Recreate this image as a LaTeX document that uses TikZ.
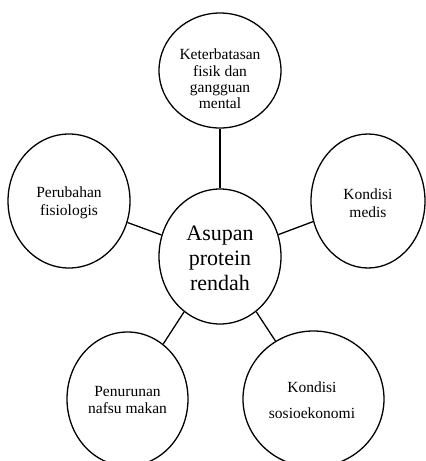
\documentclass[tikz,border=0pt]{standalone}
\usepackage{fontspec}
\setmainfont{Liberation Serif}
\usetikzlibrary{shapes.geometric}
\begin{document}
\begin{tikzpicture}[x=1pt,y=-1pt,
  bubble/.style={draw,ellipse,line width=1.3pt,inner sep=0pt},
  link/.style={line width=1.3pt},
  lbl/.style={align=center,inner sep=0pt,font=\fontsize{15.5}{17.5}\selectfont}]
\useasboundingbox[fill=white] (0,0) rectangle (426,461);
% bubbles
\node[bubble,minimum width=122pt,minimum height=115pt] (top) at (220,70.5) {};
\node[bubble,minimum width=122pt,minimum height=135pt] (core) at (220,256.5) {};
\node[bubble,minimum width=122pt,minimum height=134pt] (left) at (69,201) {};
\node[bubble,minimum width=114pt,minimum height=134pt] (right) at (368,201) {};
\node[bubble,minimum width=121pt,minimum height=134pt] (bl) at (127.5,399) {};
\node[bubble,minimum width=141pt,minimum height=136pt] (br) at (313.5,399) {};
% connectors
\draw[link] (top) -- (core);
\draw[link] (left) -- (core);
\draw[link] (right) -- (core);
\draw[link] (bl) -- (core);
\draw[link] (br) -- (core);
% texts
\node[lbl,font=\fontsize{15.5}{16.4}\selectfont] (ttop) at (220,79) {Keterbatasan\\fisik dan\\gangguan\\mental};
\node[lbl,font=\fontsize{22}{25}\selectfont] (tcore) at (220,258) {Asupan\\protein\\rendah};
\node[lbl] (tleft) at (69,203) {Perubahan\\fisiologis};
\node[lbl] (tright) at (368,203) {Kondisi\\medis};
\node[lbl] (tbl) at (127.5,400) {Penurunan\\nafsu makan};
\node[lbl,font=\fontsize{15.5}{26}\selectfont] (tbr) at (312,400) {Kondisi\\sosioekonomi};
\end{tikzpicture}
\end{document}
